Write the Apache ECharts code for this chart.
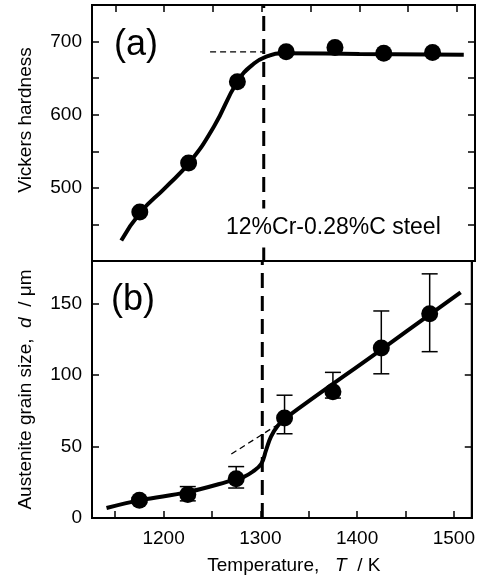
<!DOCTYPE html>
<html>
<head>
<meta charset="utf-8">
<script src="https://cdn.jsdelivr.net/npm/echarts@6/dist/echarts.min.js"></script>
<style>
  html, body { margin: 0; padding: 0; background: #fff; }
  #chart { width: 478px; height: 581px; }
</style>
</head>
<body>
<div id="chart"></div>
<script>
// ===== 数据 =====
const temps = [1175, 1225, 1275, 1325, 1375, 1425, 1475];

// (a) 硬度
const hardness = [467, 534, 645, 686, 692, 684, 685];
const hardFitT = [1156, 1176, 1201, 1226, 1251, 1275, 1292, 1306, 1320, 1400, 1507];
const hardFitV = [428, 467, 500, 535, 584, 645, 670, 680, 684, 683, 682];
const hardGuideT = [1247, 1303];
const hardGuideV = [686, 686];

// (b) 晶粒尺寸
const grain = [12.5, 16.5, 27.5, 70, 88.5, 119, 143];
const grainHi = [14, 22, 36, 86, 102, 145, 171];
const grainLo = [11, 12, 21, 59, 84, 101, 116.5];
const grainFitT = [1141, 1176, 1226, 1272, 1282, 1292, 1301, 1306, 1311, 1318, 1326, 1425, 1507];
const grainFitV = [7, 12.5, 18.3, 26.5, 28.5, 32.4, 38, 47.7, 57, 64.6, 70, 118, 158];
const grainGuideT = [1270, 1317];
const grainGuideV = [44.8, 65];

// 转变温度
const transT = 1302;

// 坐标轴刻度
const xTicks = [1150, 1200, 1250, 1300, 1350, 1400, 1450, 1500];
const xLabels = [1200, 1300, 1400, 1500];
const hardTicks = [450, 500, 550, 600, 650, 700];
const hardLabels = [500, 600, 700];
const grainTicks = [50, 100, 150];
const grainLabels = [0, 50, 100, 150];

const FONT = "'Liberation Sans', Arial, Helvetica, sans-serif";
const zip = (a, b) => a.map((v, i) => [v, b[i]]);

const chart = echarts.init(document.getElementById('chart'));

const tickStyle = { show: true, inside: true, length: 7, lineStyle: { color: '#000', width: 1.5 } };
const lineStyle = { show: true, lineStyle: { color: '#000', width: 2 } };
const labelStyle = { fontSize: 19, color: '#000', fontFamily: FONT, formatter: v => String(v) };
const italic = { i: { fontSize: 19, fontStyle: 'italic', fontFamily: FONT, color: '#000' } };

const option = {
  animation: false,
  backgroundColor: '#fff',
  grid: [
    { left: 92, top: 5, width: 383, height: 256, show: true, borderColor: '#000', borderWidth: 2 },
    { left: 92, top: 261, width: 383, height: 257, show: true, borderColor: '#000', borderWidth: 2 },
  ],
  xAxis: [
    {
      gridIndex: 0, type: 'value', position: 'top', min: 1126, max: 1518.5,
      axisLine: lineStyle,
      axisTick: Object.assign({ customValues: xTicks }, tickStyle),
      axisLabel: { show: false },
      splitLine: { show: false },
    },
    {
      gridIndex: 1, type: 'value', position: 'bottom', min: 1126, max: 1518.5,
      axisLine: lineStyle,
      axisTick: Object.assign({ customValues: xTicks }, tickStyle),
      axisLabel: Object.assign({ customValues: xLabels, margin: 11 }, labelStyle),
      splitLine: { show: false },
      name: 'Temperature,   {i|T}  / K',
      nameLocation: 'middle',
      nameGap: 38,
      nameTextStyle: { fontSize: 19, color: '#000', fontFamily: FONT, padding: [0, 0, 0, 24], rich: italic },
    },
  ],
  yAxis: [
    {
      gridIndex: 0, type: 'value', position: 'left', min: 400, max: 750,
      axisLine: lineStyle,
      axisTick: Object.assign({ customValues: hardTicks }, tickStyle),
      axisLabel: Object.assign({ customValues: hardLabels, margin: 10 }, labelStyle),
      splitLine: { show: false },
      name: 'Vickers hardness',
      nameLocation: 'middle',
      nameGap: 57,
      nameTextStyle: { fontSize: 19, color: '#000', fontFamily: FONT, padding: [0, 0, 0, 26] },
    },
    {
      gridIndex: 0, type: 'value', position: 'right', min: 400, max: 750,
      axisLine: lineStyle,
      axisTick: Object.assign({ customValues: hardTicks }, tickStyle),
      axisLabel: { show: false },
      splitLine: { show: false },
    },
    {
      gridIndex: 1, type: 'value', position: 'left', min: 0, max: 180,
      axisLine: lineStyle,
      axisTick: Object.assign({ customValues: grainTicks }, tickStyle),
      axisLabel: Object.assign({ customValues: grainLabels, margin: 10 }, labelStyle),
      splitLine: { show: false },
      name: 'Austenite grain size,  {i|d}  / μm',
      nameLocation: 'middle',
      nameGap: 57,
      nameTextStyle: { fontSize: 19, color: '#000', fontFamily: FONT, rich: italic },
    },
    {
      gridIndex: 1, type: 'value', position: 'right', min: 0, max: 180,
      axisLine: lineStyle,
      axisTick: Object.assign({ customValues: grainTicks }, tickStyle),
      axisLabel: { show: false },
      splitLine: { show: false },
    },
  ],
  series: [
    // ----- (a) -----
    {
      type: 'line', xAxisIndex: 0, yAxisIndex: 0,
      data: zip([transT, transT], [400, 750]),
      symbol: 'none', lineStyle: { color: '#000', width: 3, type: [15, 8] }, z: 1,
    },
    {
      type: 'line', xAxisIndex: 0, yAxisIndex: 0,
      data: zip(hardGuideT, hardGuideV),
      symbol: 'none', lineStyle: { color: '#000', width: 1.3, type: [6, 4] }, z: 1,
    },
    {
      type: 'line', xAxisIndex: 0, yAxisIndex: 0,
      data: zip(hardFitT, hardFitV),
      smooth: 0.5,
      symbol: 'none', lineStyle: { color: '#000', width: 4 }, z: 2,
    },
    {
      type: 'scatter', xAxisIndex: 0, yAxisIndex: 0,
      data: zip(temps, hardness),
      symbol: 'circle', symbolSize: 17, itemStyle: { color: '#000', opacity: 1 }, z: 3,
    },
    // ----- (b) -----
    {
      type: 'line', xAxisIndex: 1, yAxisIndex: 2,
      data: zip([transT, transT], [0, 180]),
      symbol: 'none', lineStyle: { color: '#000', width: 3, type: [15, 8] }, z: 1,
    },
    {
      type: 'line', xAxisIndex: 1, yAxisIndex: 2,
      data: zip(grainGuideT, grainGuideV),
      symbol: 'none', lineStyle: { color: '#000', width: 1.3, type: [6, 4] }, z: 1,
    },
    {
      type: 'line', xAxisIndex: 1, yAxisIndex: 2,
      data: zip(grainFitT, grainFitV),
      smooth: 0.4,
      symbol: 'none', lineStyle: { color: '#000', width: 4 }, z: 2,
    },
    {
      type: 'custom', xAxisIndex: 1, yAxisIndex: 2,
      data: temps.map((t, i) => [t, grainLo[i], grainHi[i]]),
      renderItem(params, api) {
        const lo = api.coord([api.value(0), api.value(1)]);
        const hi = api.coord([api.value(0), api.value(2)]);
        const w = 8;
        const st = { stroke: '#000', lineWidth: 1.5 };
        return {
          type: 'group',
          children: [
            { type: 'line', shape: { x1: lo[0], y1: lo[1], x2: hi[0], y2: hi[1] }, style: st },
            { type: 'line', shape: { x1: lo[0] - w, y1: lo[1], x2: lo[0] + w, y2: lo[1] }, style: st },
            { type: 'line', shape: { x1: hi[0] - w, y1: hi[1], x2: hi[0] + w, y2: hi[1] }, style: st },
          ],
        };
      },
      z: 2,
    },
    {
      type: 'scatter', xAxisIndex: 1, yAxisIndex: 2,
      data: zip(temps, grain),
      symbol: 'circle', symbolSize: 17, itemStyle: { color: '#000', opacity: 1 }, z: 3,
    },
  ],
  graphic: [
    { type: 'text', x: 136, y: 45, style: { text: '(a)', fontSize: 36, fontFamily: FONT, fill: '#000', align: 'center', verticalAlign: 'middle' } },
    { type: 'text', x: 133, y: 300, style: { text: '(b)', fontSize: 36, fontFamily: FONT, fill: '#000', align: 'center', verticalAlign: 'middle' } },
    {
      type: 'text', x: 224, y: 228, z: 10,
      style: {
        text: '12%Cr-0.28%C steel', fontSize: 23, fontFamily: FONT, fill: '#000',
        align: 'left', verticalAlign: 'middle', backgroundColor: '#fff', padding: [8, 2, 8, 2],
      },
    },
  ],
};

chart.setOption(option);
</script>
</body>
</html>
